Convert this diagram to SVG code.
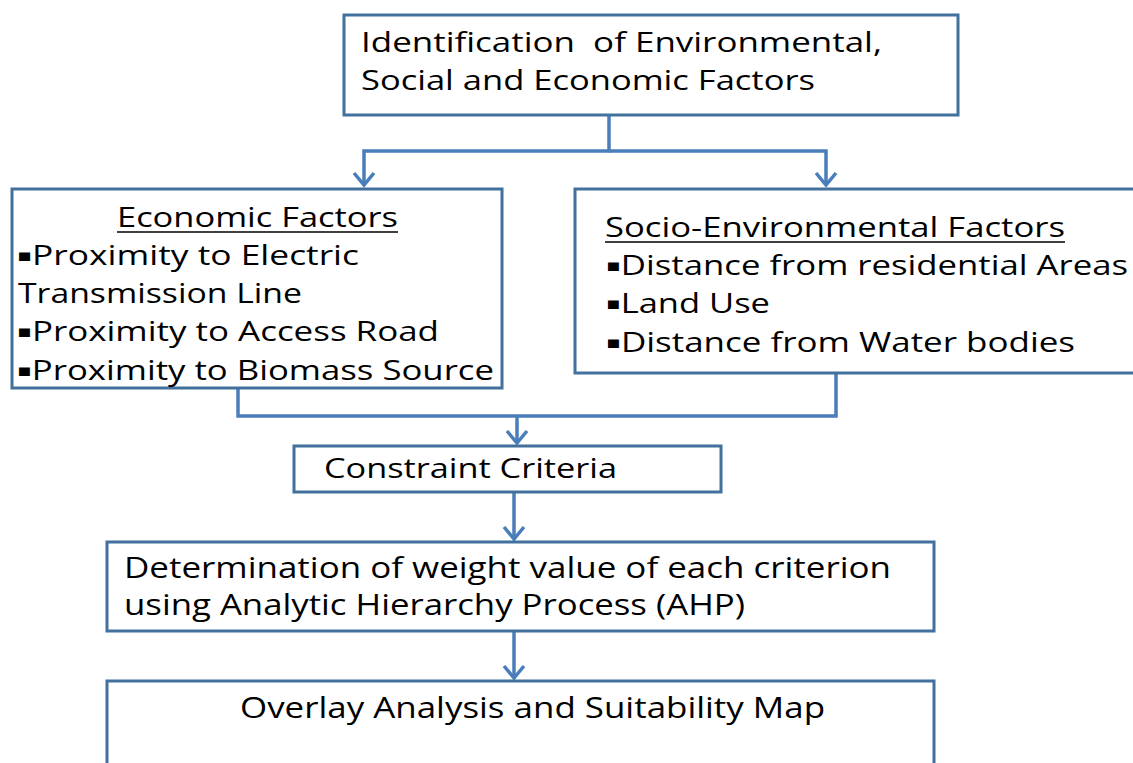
<svg xmlns="http://www.w3.org/2000/svg" width="1133" height="763" viewBox="0 0 1133 763">
<style>
.box{fill:#fff;stroke:#41719C;stroke-width:3}
.con{fill:none;stroke:#4A7EBB;stroke-width:3.5}
.t{font-family:"Open Sans","DejaVu Sans",sans-serif;font-size:27px;fill:#000}
.n{font-family:"Open Sans","DejaVu Sans",sans-serif;font-size:30px;fill:#000}
.b{font-size:17px;baseline-shift:4px}
.ul{stroke:#000;stroke-width:1.5}
</style>
<defs>
<marker id="arr" markerUnits="userSpaceOnUse" markerWidth="30" markerHeight="30" viewBox="-15 -15 30 30" refX="0" refY="0" orient="auto">
<path d="M-12,-10 L0,0 L-12,10" fill="none" stroke="#4A7EBB" stroke-width="3.5"/>
</marker>
</defs>
<rect width="1133" height="763" fill="#fff"/>
<g id="connectors">
<path class="con" d="M609,115 V151 H364 V185" marker-end="url(#arr)"/>
<path class="con" d="M609,151 H826 V185" marker-end="url(#arr)"/>
<path class="con" d="M238,388 V416 H836 V373"/>
<path class="con" d="M517,416 V443" marker-end="url(#arr)"/>
<path class="con" d="M514,492 V539" marker-end="url(#arr)"/>
<path class="con" d="M514,631 V678" marker-end="url(#arr)"/>
</g>
<g id="n1">
<rect class="box" x="344" y="15" width="614" height="100"/>
<text class="t" x="361" y="52" textLength="521" lengthAdjust="spacingAndGlyphs" xml:space="preserve">Identification  of Environmental,</text>
<text class="t" x="361" y="90" textLength="454" lengthAdjust="spacingAndGlyphs">Social and Economic Factors</text>
</g>
<g id="n2">
<rect class="box" x="12" y="189" width="490" height="199"/>
<text class="t" x="117" y="227" textLength="281" lengthAdjust="spacingAndGlyphs">Economic Factors</text>
<line class="ul" x1="117" y1="232" x2="398" y2="232"/>
<text class="t" x="17" y="265" textLength="342" lengthAdjust="spacingAndGlyphs"><tspan class="b">▪</tspan>Proximity to Electric</text>
<text class="t" x="18" y="303" textLength="284" lengthAdjust="spacingAndGlyphs">Transmission Line</text>
<text class="t" x="17" y="341" textLength="422" lengthAdjust="spacingAndGlyphs"><tspan class="b">▪</tspan>Proximity to Access Road</text>
<text class="t" x="17" y="380" textLength="477" lengthAdjust="spacingAndGlyphs"><tspan class="b">▪</tspan>Proximity to Biomass Source</text>
</g>
<g id="n3">
<rect class="box" x="575" y="189" width="580" height="184"/>
<text class="t" x="605" y="237" textLength="460" lengthAdjust="spacingAndGlyphs">Socio-Environmental Factors</text>
<line class="ul" x1="605" y1="242" x2="1065" y2="242"/>
<text class="t" x="606" y="275" textLength="522" lengthAdjust="spacingAndGlyphs"><tspan class="b">▪</tspan>Distance from residential Areas</text>
<text class="t" x="606" y="313" textLength="164" lengthAdjust="spacingAndGlyphs"><tspan class="b">▪</tspan>Land Use</text>
<text class="t" x="606" y="352" textLength="469" lengthAdjust="spacingAndGlyphs"><tspan class="b">▪</tspan>Distance from Water bodies</text>
</g>
<g id="n4">
<rect class="box" x="294" y="446" width="427" height="46"/>
<text class="t" x="324" y="478" textLength="293" lengthAdjust="spacingAndGlyphs">Constraint Criteria</text>
</g>
<g id="n5">
<rect class="box" x="107" y="542" width="827" height="89"/>
<text class="n" x="124" y="578" textLength="767" lengthAdjust="spacingAndGlyphs">Determination of weight value of each criterion</text>
<text class="n" x="124" y="615" textLength="621" lengthAdjust="spacingAndGlyphs">using Analytic Hierarchy Process (AHP)</text>
</g>
<g id="n6">
<rect class="box" x="107" y="681" width="827" height="100"/>
<text class="n" x="240" y="718" textLength="585" lengthAdjust="spacingAndGlyphs">Overlay Analysis and Suitability Map</text>
</g>
</svg>
